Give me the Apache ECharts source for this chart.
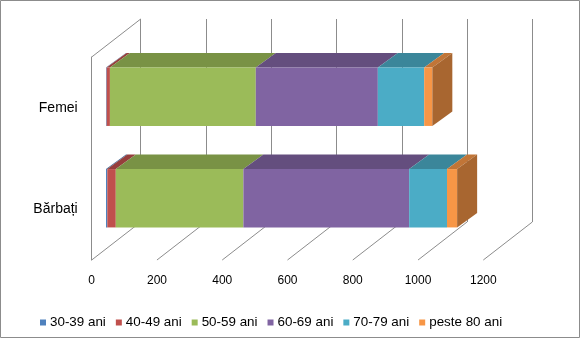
<!DOCTYPE html>
<html>
<head>
<meta charset="utf-8">
<script src="https://cdn.jsdelivr.net/npm/echarts@6/dist/echarts.min.js"></script>
<style>
html,body{margin:0;padding:0;background:#fff;}
#chart{width:580px;height:338px;}
</style>
</head>
<body>
<div id="chart"></div>
<script>
// ---- data ----
const categories = ['Bărbați', 'Femei'];
const seriesNames = ['30-39 ani', '40-49 ani', '50-59 ani', '60-69 ani', '70-79 ani', 'peste 80 ani'];
const v30_39 = [4, 2];      // [Bărbați, Femei]
const v40_49 = [26, 10];
const v50_59 = [391, 447];
const v60_69 = [508, 374];
const v70_79 = [116, 142];
const vPeste80 = [31, 25];
const xTicks = [0, 200, 400, 600, 800, 1000, 1200];

// ---- styling ----
const colors = ['#4F81BD', '#C0504D', '#9BBB59', '#8064A2', '#4BACC6', '#F79646'];
const FONT = 'Liberation Sans, Arial, sans-serif';
const GRID_LINE = '#8c8c8c';
const WALL_DX = 49, WALL_DY = -38;   // full depth of the 3D box
const BAR_OX = 14.3, BAR_OY = -11;   // front face of bars inside the box
const BAR_DX = 20, BAR_DY = -14.5;   // bar depth
const BAR_RATIO = 0.575;

function shade(hex, f) {
  const n = parseInt(hex.slice(1), 16);
  const r = Math.round(((n >> 16) & 255) * f);
  const g = Math.round(((n >> 8) & 255) * f);
  const b = Math.round((n & 255) * f);
  return 'rgb(' + r + ',' + g + ',' + b + ')';
}

const allValues = [v30_39, v40_49, v50_59, v60_69, v70_79, vPeste80];
const cum = categories.map(() => 0);
const stacked = allValues.map((arr, si) => arr.map((v, ci) => {
  const s = cum[ci];
  cum[ci] += v;
  return [s, s + v, ci, si === allValues.length - 1 ? 1 : 0];
}));

function barRender(si) {
  return function (params, api) {
    const s = api.value(0), e = api.value(1), c = api.value(2), last = api.value(3);
    const p0 = api.coord([s, c]);
    const p1 = api.coord([e, c]);
    const h = api.size([0, 1])[1] * BAR_RATIO;
    const x0 = p0[0] + BAR_OX, x1 = p1[0] + BAR_OX;
    const yc = p0[1] + BAR_OY;
    const yt = yc - h / 2, yb = yc + h / 2;
    const col = colors[si];
    const children = [
      { type: 'polygon', shape: { points: [[x0, yt], [x1, yt], [x1 + BAR_DX, yt + BAR_DY], [x0 + BAR_DX, yt + BAR_DY]] },
        style: { fill: shade(col, 0.78) } },
      { type: 'rect', shape: { x: x0, y: yt, width: x1 - x0, height: yb - yt }, style: { fill: col } }
    ];
    if (last) {
      children.push({ type: 'polygon',
        shape: { points: [[x1, yt], [x1 + BAR_DX, yt + BAR_DY], [x1 + BAR_DX, yb + BAR_DY], [x1, yb]] },
        style: { fill: shade(col, 0.68) } });
    }
    return { type: 'group', children: children };
  };
}

function wallRender(params, api) {
  const cs = params.coordSys;
  const x = api.coord([api.value(0), 0])[0];
  const bottom = cs.y + cs.height, top = cs.y;
  const children = [
    { type: 'line', shape: { x1: x, y1: bottom, x2: x + WALL_DX, y2: bottom + WALL_DY },
      style: { stroke: GRID_LINE, lineWidth: 1 } }
  ];
  if (api.value(0) === xTicks[0]) {
    children.push({ type: 'line', shape: { x1: x, y1: top, x2: x + WALL_DX, y2: top + WALL_DY },
      style: { stroke: GRID_LINE, lineWidth: 1 } });
  }
  return { type: 'group', children: children };
}

const front = { left: 91.7, top: 57, width: 391.6, height: 203 };

const series = [
  {
    type: 'custom', name: '__walls', xAxisIndex: 0, yAxisIndex: 0,
    data: xTicks.map(v => [v]), encode: { x: 0 }, renderItem: wallRender,
    clip: false, silent: true, z: 1
  }
].concat(stacked.map((d, si) => ({
  type: 'custom', name: seriesNames[si], xAxisIndex: 0, yAxisIndex: 0,
  itemStyle: { color: colors[si] },
  dimensions: ['s', 'e', 'c', 'last'],
  encode: { x: [0, 1], y: 2 },
  data: d, renderItem: barRender(si), clip: false, z: 3
})));

const chart = echarts.init(document.getElementById('chart'), null, { renderer: 'canvas' });
chart.setOption({
  animation: false,
  backgroundColor: '#fff',
  graphic: [{ type: 'rect', shape: { x: 0.5, y: 0.5, width: 579, height: 337 },
    style: { fill: 'none', stroke: '#8c8c8c', lineWidth: 1 }, z: -10 }],
  grid: [
    { left: front.left, top: front.top, width: front.width, height: front.height },
    { left: front.left + WALL_DX, top: front.top + WALL_DY, width: front.width, height: front.height }
  ],
  xAxis: [
    { type: 'value', gridIndex: 0, min: 0, max: 1200, interval: 200,
      axisLine: { show: false }, axisTick: { show: false }, splitLine: { show: false },
      axisLabel: { fontSize: 12, color: '#000', fontFamily: FONT, margin: 15, formatter: v => String(v) } },
    { type: 'value', gridIndex: 1, min: 0, max: 1200, interval: 200,
      axisLine: { show: false }, axisTick: { show: false }, axisLabel: { show: false },
      splitLine: { show: true, lineStyle: { color: GRID_LINE, width: 1 } } }
  ],
  yAxis: [
    { type: 'category', gridIndex: 0, data: categories,
      axisLine: { show: true, lineStyle: { color: GRID_LINE, width: 1 } },
      axisTick: { show: false }, splitLine: { show: false },
      axisLabel: { fontSize: 14, color: '#000', fontFamily: FONT, margin: 14 } },
    { type: 'category', gridIndex: 1, data: categories, show: false }
  ],
  legend: {
    data: seriesNames, left: 35, top: 311, icon: 'rect',
    itemWidth: 6, itemHeight: 6, itemGap: 10,
    textStyle: { fontSize: 13.4, color: '#000', fontFamily: FONT, padding: [0, 0, 0, -1] }
  },
  series: series
});
</script>
</body>
</html>
